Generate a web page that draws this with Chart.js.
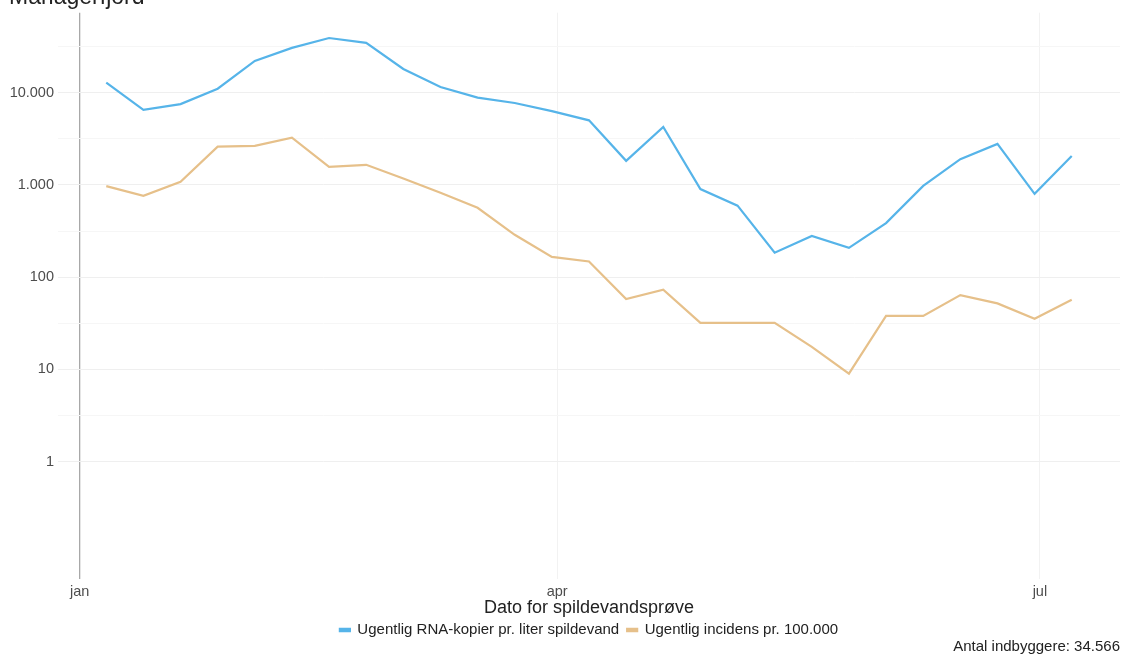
<!DOCTYPE html>
<html>
<head>
<meta charset="utf-8">
<script src="https://cdn.jsdelivr.net/npm/chart.js@4/dist/chart.umd.min.js"></script>
<style>
  html, body { margin: 0; padding: 0; background: #ffffff; }
  #wrap { width: 1122px; height: 657px; position: relative; }
</style>
</head>
<body>
<div id="wrap"><canvas id="c" width="1122" height="657"></canvas></div>
<script>
// ---- Data ----
const sampleDates = [
  '2021-01-06','2021-01-13','2021-01-20','2021-01-27','2021-02-03','2021-02-10','2021-02-17',
  '2021-02-24','2021-03-03','2021-03-10','2021-03-17','2021-03-24','2021-03-31','2021-04-07',
  '2021-04-14','2021-04-21','2021-04-28','2021-05-05','2021-05-12','2021-05-19','2021-05-26',
  '2021-06-02','2021-06-09','2021-06-16','2021-06-23','2021-06-30','2021-07-07'
];
const rnaCopies = [
  12800, 6500, 7500, 11000, 22000, 30500, 39000,
  34500, 18000, 11500, 8800, 7700, 6300, 5000,
  1820, 4250, 900, 595, 184, 280,
  208, 385, 975, 1900, 2780, 800, 2050
];
const incidence = [
  970, 760, 1080, 2590, 2650, 3240, 1570,
  1650, 1170, 820, 565, 288, 166, 148,
  58, 73, 32, 32, 32, 17.6,
  9.0, 38, 38, 64, 52, 35.5, 57
];
const seriesNames = ['Ugentlig RNA-kopier pr. liter spildevand', 'Ugentlig incidens pr. 100.000'];
const monthTickDates = ['2021-01-01', '2021-04-01', '2021-07-01'];
const monthTickLabels = ['jan', 'apr', 'jul'];
const yMajorTicks = [1, 10, 100, 1000, 10000];
const yMinorTicks = [3.1623, 31.623, 316.23, 3162.3, 31623];
const titleText = 'Mariagerfjord';
const xTitleText = 'Dato for spildevandsprøve';
const captionText = 'Antal indbyggere: 34.566';

// ---- Helpers ----
const t0 = Date.UTC(2021, 0, 1);
function dayNum(s) {
  const p = s.split('-').map(Number);
  return (Date.UTC(p[0], p[1] - 1, p[2]) - t0) / 86400000;
}
function fmtDK(v) {
  return Math.round(v).toString().replace(/\B(?=(\d{3})+(?!\d))/g, '.');
}
const xDays = sampleDates.map(dayNum);
const monthDays = monthTickDates.map(dayNum);
const dataMin = Math.min(...xDays), dataMax = Math.max(...xDays);
const xPad = (dataMax - dataMin) * 0.05;

const FONT = "'Liberation Sans', Arial, sans-serif";

// Keep legend centred over the plot panel (as in the reference)
const legendAlignPlugin = {
  id: 'legendAlign',
  afterLayout(chart) {
    const lg = chart.legend, ca = chart.chartArea;
    if (lg && ca) { lg.left = ca.left; lg.right = ca.right; }
  }
};

const ctx = document.getElementById('c').getContext('2d');
new Chart(ctx, {
  type: 'line',
  data: {
    datasets: [
      {
        label: seriesNames[0],
        data: xDays.map((d, i) => ({ x: d, y: rnaCopies[i] })),
        borderColor: '#56B4E9',
        backgroundColor: '#56B4E9',
        borderWidth: 2.2,
        pointRadius: 0,
        tension: 0
      },
      {
        label: seriesNames[1],
        data: xDays.map((d, i) => ({ x: d, y: incidence[i] })),
        borderColor: '#E6C08A',
        backgroundColor: '#E6C08A',
        borderWidth: 2.2,
        pointRadius: 0,
        tension: 0
      }
    ]
  },
  options: {
    responsive: false,
    animation: false,
    events: [],
    layout: { padding: { left: 9, right: 2, top: 0, bottom: 0 } },
    plugins: {
      tooltip: { enabled: false },
      title: {
        display: true,
        text: titleText,
        align: 'start',
        color: '#222222',
        font: { family: FONT, size: 23, weight: 'normal' },
        padding: { top: -17.3, bottom: 1.7 }
      },
      subtitle: {
        display: true,
        position: 'bottom',
        text: captionText,
        align: 'end',
        color: '#222222',
        font: { family: FONT, size: 15, weight: 'normal' },
        padding: { top: -9.5, bottom: 1 }
      },
      legend: {
        display: true,
        position: 'bottom',
        labels: {
          color: '#222222',
          font: { family: FONT, size: 15 },
          boxWidth: 10,
          boxHeight: 2.5,
          padding: 8
        }
      }
    },
    scales: {
      x: {
        type: 'linear',
        min: dataMin - xPad,
        max: dataMax + xPad,
        border: { display: false },
        grid: {
          drawTicks: false,
          color: (c) => (c.tick && c.tick.value === 0 ? '#a8a8a8' : '#f2f2f2'),
          lineWidth: (c) => (c.tick && c.tick.value === 0 ? 1.3 : 1)
        },
        afterBuildTicks: (scale) => {
          scale.ticks = monthDays.map(v => ({ value: v }));
        },
        ticks: {
          autoSkip: false,
          maxRotation: 0,
          padding: 4,
          color: '#4d4d4d',
          font: { family: FONT, size: 14.5 },
          callback: (v) => {
            const i = monthDays.indexOf(v);
            return i >= 0 ? monthTickLabels[i] : '';
          }
        },
        title: {
          display: true,
          text: xTitleText,
          color: '#222222',
          font: { family: FONT, size: 18 },
          padding: { top: -7, bottom: -4.3 }
        }
      },
      y: {
        type: 'logarithmic',
        min: 0.054,
        max: 73300,
        border: { display: false },
        afterFit: (scale) => { scale.width = 49; },
        afterBuildTicks: (scale) => {
          scale.ticks = yMajorTicks.concat(yMinorTicks).sort((a, b) => a - b).map(v => ({ value: v }));
        },
        grid: {
          drawTicks: false,
          color: (c) => (c.tick && yMajorTicks.includes(c.tick.value) ? '#efefef' : '#f6f6f6'),
          lineWidth: 1
        },
        ticks: {
          autoSkip: false,
          padding: 4,
          color: '#4d4d4d',
          font: { family: FONT, size: 14.5 },
          callback: (v) => (yMajorTicks.includes(v) ? fmtDK(v) : '')
        }
      }
    }
  },
  plugins: [legendAlignPlugin]
});
</script>
</body>
</html>
